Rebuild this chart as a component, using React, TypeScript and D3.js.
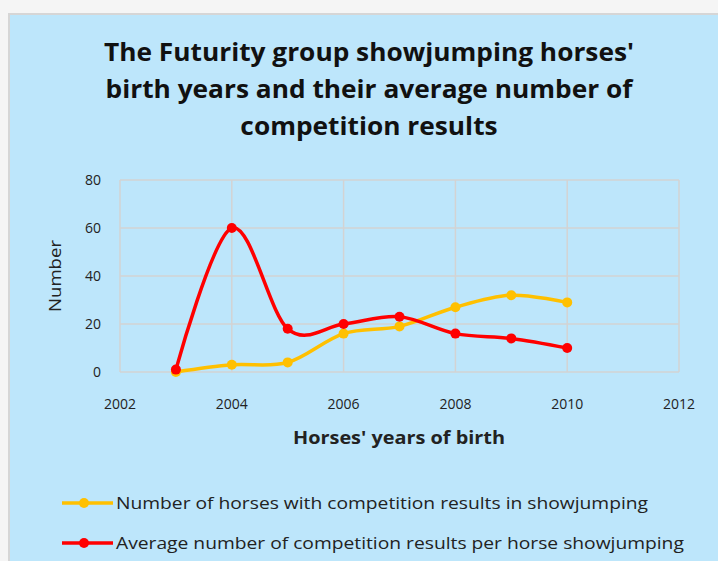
import { useRef, useEffect } from 'react';
import * as d3 from 'd3';

const YEARS = [2003, 2004, 2005, 2006, 2007, 2008, 2009, 2010];
const HORSES = [0, 3, 4, 16, 19, 27, 32, 29];
const AVG_RESULTS = [1, 60, 18, 20, 23, 16, 14, 10];
const X_TICKS = [2002, 2004, 2006, 2008, 2010, 2012];
const Y_TICKS = [0, 20, 40, 60, 80];
const TITLE_LINES = [
  "The Futurity group showjumping horses'",
  'birth years and their average number of',
  'competition results',
];
const SERIES = [
  { name: 'Number of horses with competition results in showjumping', values: HORSES, color: '#ffc000' },
  { name: 'Average number of competition results per horse showjumping', values: AVG_RESULTS, color: '#ff0000' },
];

const W = 718;
const H = 561;
const FONT = '"Open Sans", "DejaVu Sans", sans-serif';

// squeeze/stretch a group of text nodes horizontally so the first one spans `target` px
function fitTexts(nodes: SVGTextElement[], target: number) {
  if (!nodes.length) return;
  const k = target / nodes[0].getComputedTextLength();
  nodes.forEach(n => {
    const len = n.getComputedTextLength();
    n.setAttribute('textLength', String(len * k));
    n.setAttribute('lengthAdjust', 'spacingAndGlyphs');
  });
}

export default function App() {
  const svgRef = useRef<SVGSVGElement | null>(null);

  useEffect(() => {
    if (!svgRef.current) return;
    const svg = d3.select(svgRef.current);
    svg.selectAll('*').remove();

    // page + chart background
    svg.append('rect').attr('width', W).attr('height', H).attr('fill', '#f5f5f5');
    svg.append('rect')
      .attr('x', 9).attr('y', 14).attr('width', W).attr('height', H)
      .attr('fill', '#bde6fb').attr('stroke', '#d6d6d6').attr('stroke-width', 2);

    // title
    const titleNodes = TITLE_LINES.map((t, i) =>
      svg.append('text')
        .attr('x', 369).attr('y', 61 + i * 37)
        .attr('text-anchor', 'middle')
        .attr('font-family', FONT).attr('font-weight', 700)
        .attr('font-size', 25).attr('fill', '#111')
        .text(t).node() as SVGTextElement);
    fitTexts(titleNodes, 530);

    const x = d3.scaleLinear().domain([2002, 2012]).range([120, 679]);
    const y = d3.scaleLinear().domain([0, 80]).range([372, 180]);

    const g = svg.append('g');

    // grid
    g.selectAll('.hgrid').data(Y_TICKS).join('line')
      .attr('x1', x(2002)).attr('x2', x(2012))
      .attr('y1', d => y(d)).attr('y2', d => y(d))
      .attr('stroke', '#d3d3d3').attr('stroke-width', 1.5);
    g.selectAll('.vgrid').data(X_TICKS).join('line')
      .attr('x1', d => x(d)).attr('x2', d => x(d))
      .attr('y1', y(0)).attr('y2', y(80))
      .attr('stroke', '#d3d3d3').attr('stroke-width', 1.5);

    // tick labels
    g.selectAll('.ylab').data(Y_TICKS).join('text')
      .attr('x', 101).attr('y', d => y(d) + 5)
      .attr('text-anchor', 'end')
      .attr('font-family', FONT).attr('font-size', 14).attr('fill', '#222')
      .text(d => d);
    g.selectAll('.xlab').data(X_TICKS).join('text')
      .attr('x', d => x(d)).attr('y', 409)
      .attr('text-anchor', 'middle')
      .attr('font-family', FONT).attr('font-size', 14).attr('fill', '#222')
      .text(d => d);

    // axis titles
    const yTitle = svg.append('text')
      .attr('transform', `translate(61,${y(40)}) rotate(-90)`)
      .attr('text-anchor', 'middle')
      .attr('font-family', FONT).attr('font-size', 16).attr('fill', '#222')
      .text('Number');
    fitTexts([yTitle.node() as SVGTextElement], 72);
    const xTitle = svg.append('text')
      .attr('x', 399).attr('y', 444)
      .attr('text-anchor', 'middle')
      .attr('font-family', FONT).attr('font-weight', 700)
      .attr('font-size', 18).attr('fill', '#222')
      .text("Horses' years of birth");
    fitTexts([xTitle.node() as SVGTextElement], 212);

    const line = d3.line<number>()
      .x((_, i) => x(YEARS[i]))
      .y(d => y(d))
      .curve(d3.curveCardinal.tension(0));

    SERIES.forEach(s => {
      g.append('path')
        .datum(s.values)
        .attr('d', line)
        .attr('fill', 'none')
        .attr('stroke', s.color)
        .attr('stroke-width', 3.5)
        .attr('stroke-linejoin', 'round');
      g.selectAll(null).data(s.values).join('circle')
        .attr('cx', (_, i) => x(YEARS[i]))
        .attr('cy', d => y(d))
        .attr('r', 5)
        .attr('fill', s.color);
    });

    // legend
    const legendNodes: SVGTextElement[] = [];
    SERIES.forEach((s, i) => {
      const ly = 503 + i * 40;
      const lg = svg.append('g');
      lg.append('line')
        .attr('x1', 62).attr('x2', 113).attr('y1', ly).attr('y2', ly)
        .attr('stroke', s.color).attr('stroke-width', 3.5);
      lg.append('circle').attr('cx', 84).attr('cy', ly).attr('r', 5).attr('fill', s.color);
      legendNodes.push(lg.append('text')
        .attr('x', 116).attr('y', ly + 6)
        .attr('font-family', FONT).attr('font-size', 16).attr('fill', '#222')
        .text(s.name).node() as SVGTextElement);
    });
    fitTexts(legendNodes, 532);
  }, []);

  return (
    <svg
      ref={svgRef}
      width={W}
      height={H}
      style={{ position: 'absolute', left: 0, top: 0, display: 'block' }}
    />
  );
}
